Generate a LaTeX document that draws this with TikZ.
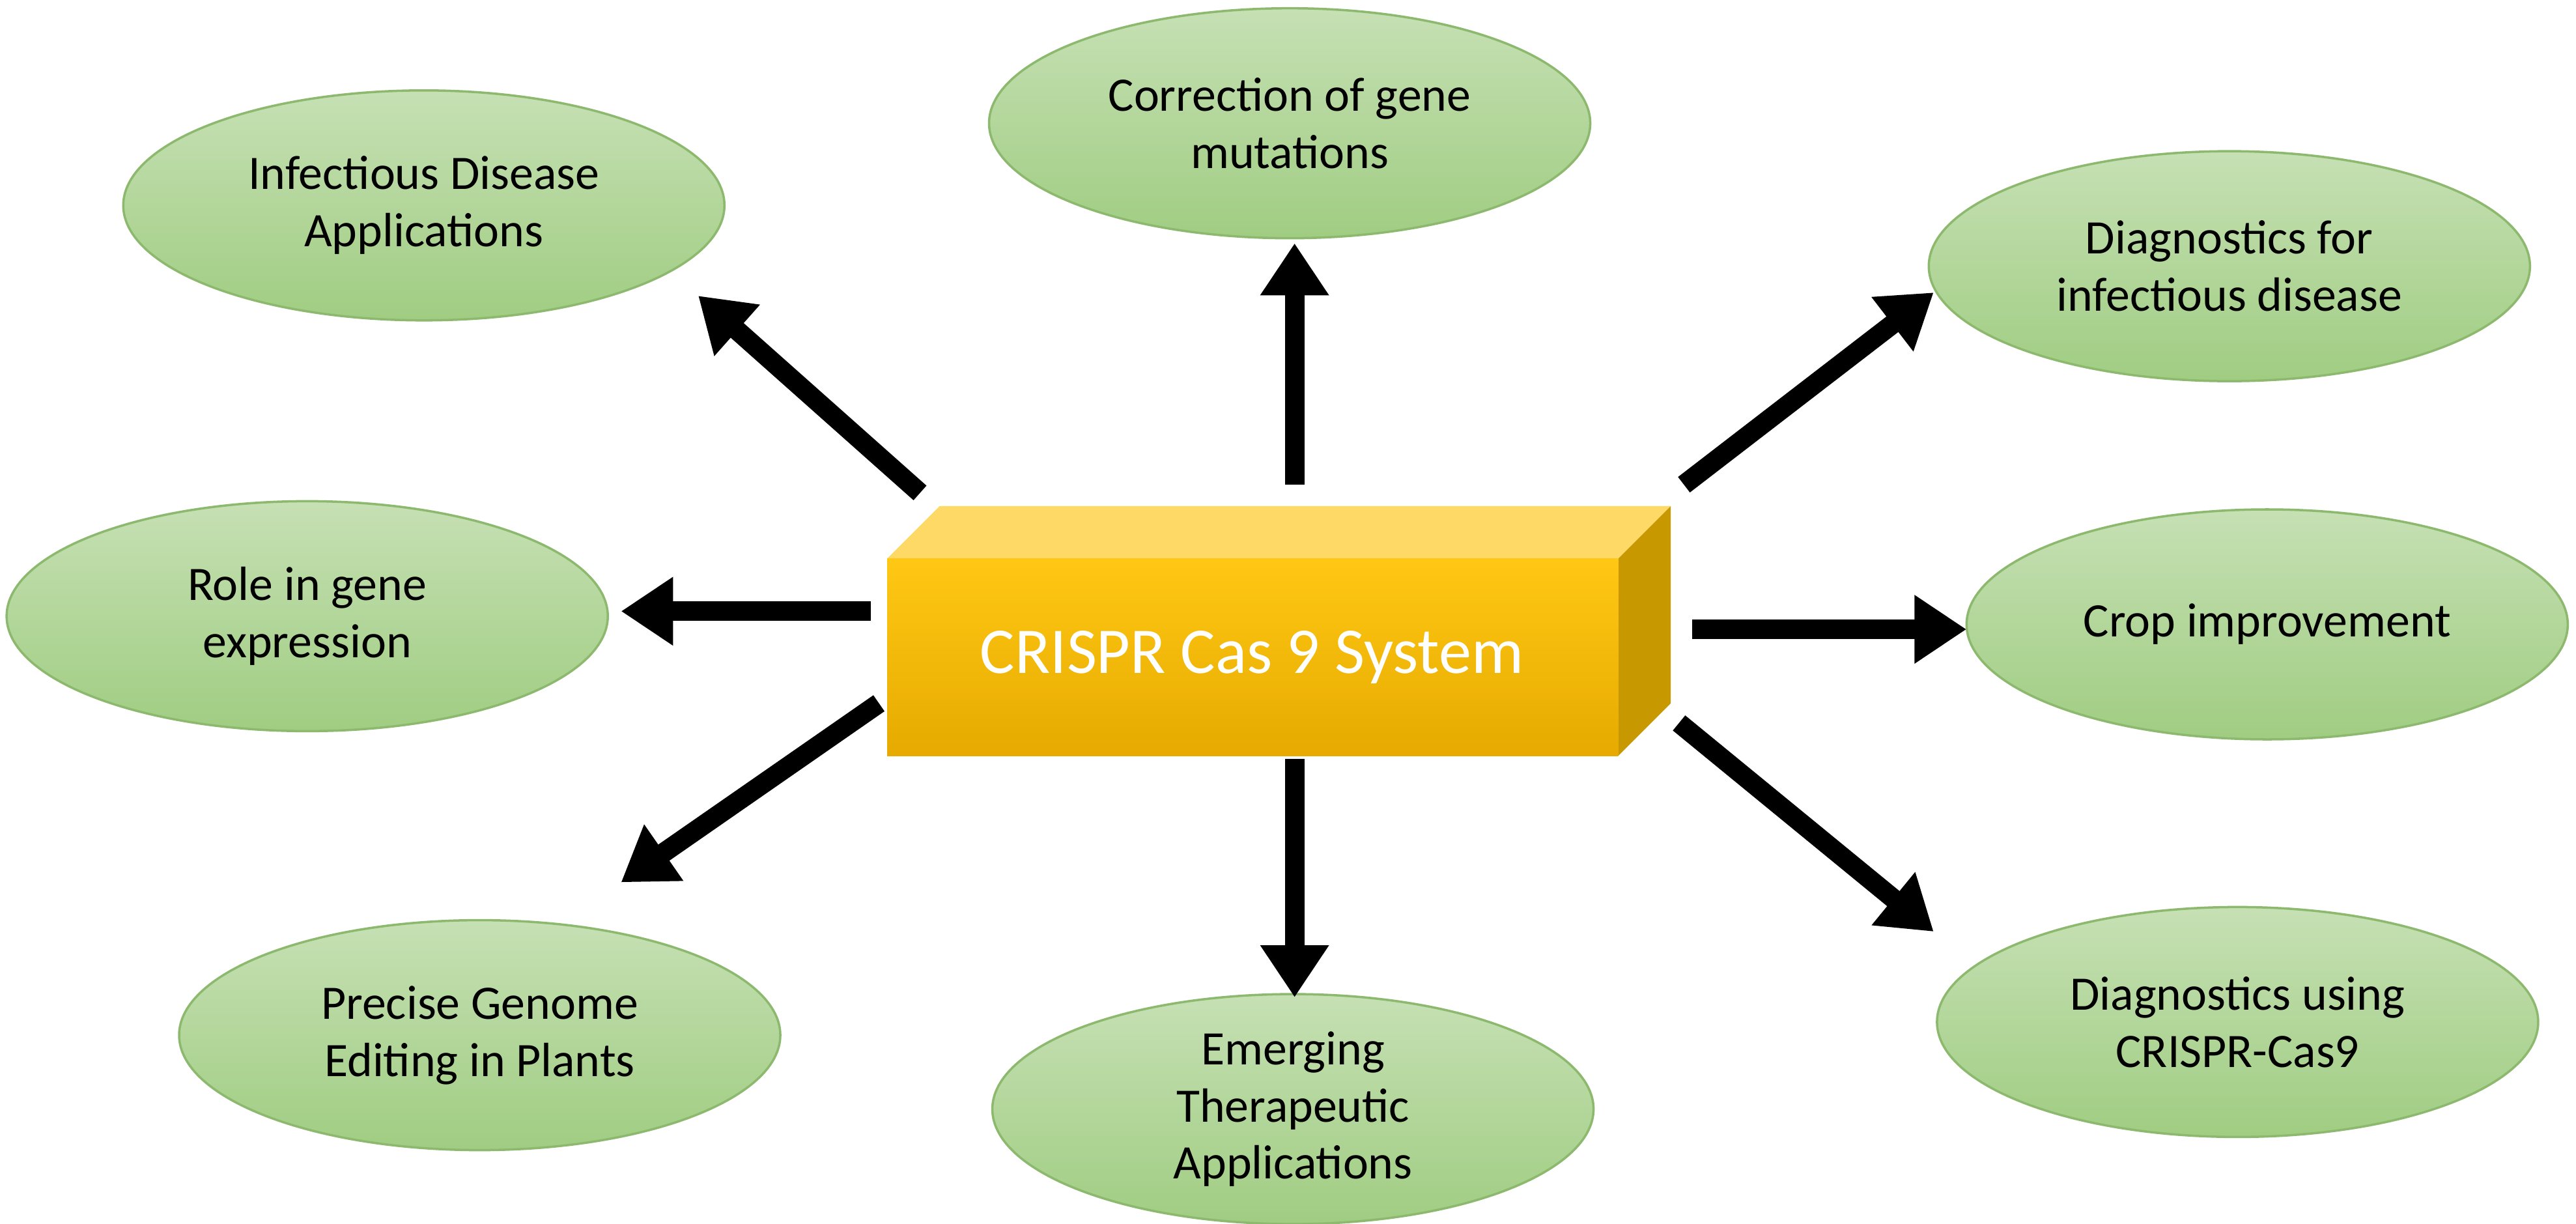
\documentclass[tikz,border=0pt]{standalone}
\usepackage{fontspec}
\setmainfont{Carlito}
\usetikzlibrary{shapes.geometric,arrows.meta}
\definecolor{gtop}{RGB}{198,224,180}
\definecolor{gbot}{RGB}{160,205,130}
\definecolor{gdraw}{RGB}{140,185,110}
\definecolor{ytop}{RGB}{255,217,102}
\definecolor{yside}{RGB}{200,152,0}
\definecolor{yf1}{RGB}{255,200,20}
\definecolor{yf2}{RGB}{230,170,0}
\begin{document}
\begin{tikzpicture}[x=0.02522cm,y=-0.02522cm,
  ell/.style={ellipse,draw=gdraw,line width=1pt,top color=gtop,bottom color=gbot,
    minimum width=9.23cm,minimum height=3.53cm,inner sep=0pt,align=center,font=\fontsize{21}{25}\selectfont,text=black},
  arr/.style={line width=0.3cm,-{Triangle[length=0.8cm,width=1.0cm]}}]
\useasboundingbox (0,0) rectangle (1568,744.6);
\node[ell] (ida) at (258,125) {Infectious Disease\\Applications};
\node[ell] (cor) at (785,75) {Correction of gene\\mutations};
\node[ell] (dia) at (1357,162) {Diagnostics for\\infectious disease};
\node[ell] (role) at (187,375) {Role in gene\\expression};
\node[ell] (crop) at (1380,380) {Crop improvement};
\node[ell] (pge) at (292,630) {Precise Genome\\Editing in Plants};
\node[ell] (eta) at (787,675) {Emerging\\Therapeutic\\Applications};
\node[ell] (dus) at (1362,622) {Diagnostics using\\CRISPR-Cas9};
% box
\fill[ytop] (540,340) -- (572,308) -- (1017,308) -- (985,340) -- cycle;
\fill[yside] (985,340) -- (1017,308) -- (1017,428) -- (985,460) -- cycle;
\shade[top color=yf1,bottom color=yf2] (540,340) rectangle (985,460);
\node[text=white,font=\fontsize{28.5}{33}\selectfont] (box) at (762,400) {CRISPR Cas 9 System};
% arrows
\coordinate (s1) at (560,300); \coordinate (e1) at (425,180);
\coordinate (s2) at (788,295); \coordinate (e2) at (788,148);
\coordinate (s3) at (1025,295); \coordinate (e3) at (1177,178);
\coordinate (s4) at (530,372); \coordinate (e4) at (378,372);
\coordinate (s5) at (1030,383); \coordinate (e5) at (1197,383);
\coordinate (s6) at (535,428); \coordinate (e6) at (378,537);
\coordinate (s7) at (788,462); \coordinate (e7) at (788,607);
\coordinate (s8) at (1022,440); \coordinate (e8) at (1177,567);
\foreach \i in {1,...,8} \draw[arr] (s\i) -- (e\i);
\end{tikzpicture}
\end{document}
